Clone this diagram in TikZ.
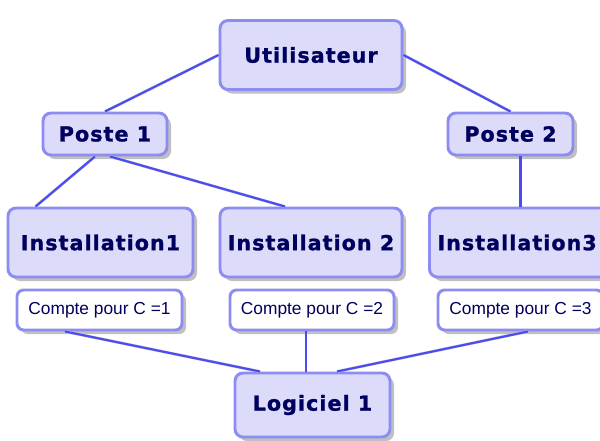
\documentclass[tikz,border=0pt]{standalone}
\usepackage{fontspec}
\setmainfont{DejaVu Sans}
\newfontfamily\labelfont[LetterSpace=5,FakeBold=1.2]{DejaVu Sans Bold}
\newfontfamily\comptefont{Liberation Sans}
\usetikzlibrary{shadows}
\definecolor{boxfill}{HTML}{DCDCFA}
\definecolor{boxline}{HTML}{8C8CF2}
\definecolor{txt}{HTML}{00005E}
\definecolor{wire}{HTML}{4B4BF5}
\begin{document}
\begin{tikzpicture}[x=0.75pt,y=-0.75pt,
  shadowed/.style={drop shadow={shadow xshift=3pt, shadow yshift=-3pt, opacity=0.35, fill=black!70}},
  bigbox/.style={shadowed, draw=boxline, line width=2.2pt, fill=boxfill, rounded corners=6pt,
    inner sep=0pt, text=txt, font=\labelfont\fontsize{15.5}{17}\selectfont},
  smallbox/.style={shadowed, draw=boxline, line width=2.2pt, fill=white, rounded corners=5pt,
    inner sep=0pt, text=txt, font=\comptefont\fontsize{13}{15}\selectfont},
  wireshadow/.style={draw=black!22, line width=2.2pt},
  wireline/.style={draw=wire, line width=1.6pt}
]
\useasboundingbox (0,0) rectangle (600,440);
\fill[white] (0,0) rectangle (600,440);

\node[bigbox, minimum width={182*0.75pt}, minimum height={69*0.75pt}] (u) at (311,55) {Utilisateur};
\node[bigbox, minimum width={124*0.75pt}, minimum height={42*0.75pt}] (p1) at (105,134) {Poste 1};
\node[bigbox, minimum width={125*0.75pt}, minimum height={42*0.75pt}] (p2) at (510.5,134) {Poste 2};
\node[bigbox, minimum width={185*0.75pt}, minimum height={69*0.75pt}] (i1) at (100.5,242.5) {Installation1};
\node[bigbox, minimum width={182*0.75pt}, minimum height={69*0.75pt}] (i2) at (311,242.5) {Installation 2};
\node[bigbox, anchor=west, minimum height={69*0.75pt}, text width={180*0.75pt}, align=left,
  inner xsep={8*0.75pt}] (i3) at (428,242.5) {Installation3};
\node[smallbox, minimum width={165*0.75pt}, minimum height={40*0.75pt}] (c1) at (99.5,310) {Compte pour C =1};
\node[smallbox, minimum width={164*0.75pt}, minimum height={40*0.75pt}] (c2) at (312,310) {Compte pour C =2};
\node[smallbox, minimum width={165*0.75pt}, minimum height={40*0.75pt}] (c3) at (520.5,310) {Compte pour C =3};
\node[bigbox, minimum width={155*0.75pt}, minimum height={64*0.75pt}] (l) at (312.5,405) {Logiciel 1};

\coordinate (p2s) at ([xshift=7.5pt]p2.south);

% connector shadows
\begin{scope}[shift={(3,3)}]
\path[wireshadow] (u.west) -- (p1.north);
\path[wireshadow] (u.east) -- (p2.north);
\path[wireshadow] ([xshift=-7.5pt]p1.south) -- ([xshift={-65*0.75pt}]i1.north);
\path[wireshadow] ([xshift=3.75pt]p1.south) -- ([xshift={-26*0.75pt}]i2.north);
\path[wireshadow] (p2s) -- (p2s |- i3.north);
\path[wireshadow] ([xshift={-34.5*0.75pt}]c1.south) -- ([xshift={-52.5*0.75pt}]l.north);
\path[wireshadow] ([xshift={-6*0.75pt}]c2.south) -- ([xshift={-6.5*0.75pt}]l.north);
\path[wireshadow] ([xshift={7.5*0.75pt}]c3.south) -- ([xshift={24.5*0.75pt}]l.north);
\end{scope}
% connectors
\path[wireline] (u.west) -- (p1.north);
\path[wireline] (u.east) -- (p2.north);
\path[wireline] ([xshift=-7.5pt]p1.south) -- ([xshift={-65*0.75pt}]i1.north);
\path[wireline] ([xshift=3.75pt]p1.south) -- ([xshift={-26*0.75pt}]i2.north);
\path[wireline] (p2s) -- (p2s |- i3.north);
\path[wireline] ([xshift={-34.5*0.75pt}]c1.south) -- ([xshift={-52.5*0.75pt}]l.north);
\path[wireline] ([xshift={-6*0.75pt}]c2.south) -- ([xshift={-6.5*0.75pt}]l.north);
\path[wireline] ([xshift={7.5*0.75pt}]c3.south) -- ([xshift={24.5*0.75pt}]l.north);
\end{tikzpicture}
\end{document}
